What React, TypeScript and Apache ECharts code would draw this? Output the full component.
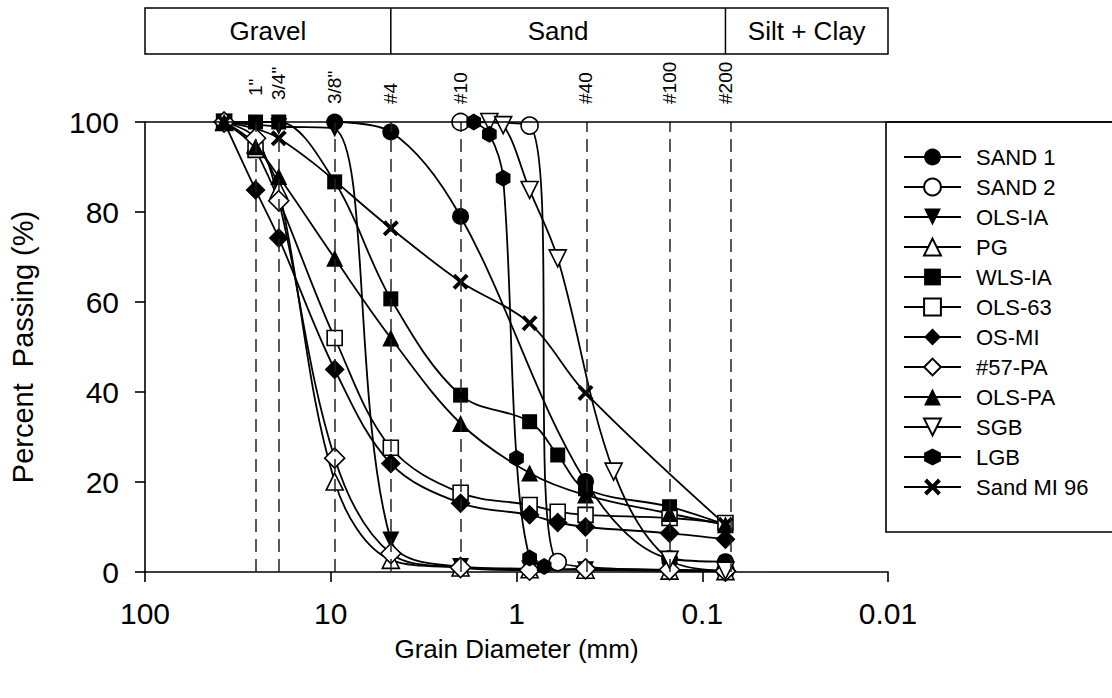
import React, { useEffect, useRef } from "react";
import * as echarts from "echarts";

const FONT = '"Liberation Sans", Arial, Helvetica, sans-serif';

// Sieve sizes (mm) and their labels
const sieveSizes = [25.4, 19.05, 9.525, 4.75, 2.0, 0.425, 0.15, 0.075];
const sieveLabels = ['1"', '3/4"', '3/8"', "#4", "#10", "#40", "#100", "#200"];

// Soil classification bands
const bandNames = ["Gravel", "Sand", "Silt + Clay"];
const bandBounds = [100, 4.75, 0.075, 0.01];

// Axis ticks
const yTicks = [0, 20, 40, 60, 80, 100];

// Series data: grain size (mm) and percent passing
const sand1Size = [9.525, 4.75, 2.0, 0.425, 0.15, 0.075];
const sand1Pass = [100, 97.8, 79, 20.1, 3, 2.3];

const sand2Size = [2.0, 0.85, 0.6, 0.075];
const sand2Pass = [100, 99.2, 2.2, 0.3];

const olsIaSize = [37.5, 19.05, 9.525, 4.75, 2.0, 0.85, 0.425, 0.15, 0.075];
const olsIaPass = [100, 99, 98.5, 7.1, 1.2, 0.7, 0.5, 0.3, 0.2];

const pgSize = [37.5, 25.4, 19.05, 9.525, 4.75, 2.0, 0.85, 0.425, 0.15, 0.075];
const pgPass = [100, 95, 85, 20.1, 2.7, 1, 0.6, 0.5, 0.3, 0.2];

const wlsIaSize = [37.5, 25.4, 19.05, 9.525, 4.75, 2.0, 0.85, 0.6, 0.425, 0.15, 0.075];
const wlsIaPass = [100, 100, 100, 86.7, 60.7, 39.3, 33.4, 26, 18.5, 14.5, 10.5];

const ols63Size = [37.5, 25.4, 9.525, 4.75, 2.0, 0.85, 0.6, 0.425, 0.15, 0.075];
const ols63Pass = [100, 93.8, 52, 27.6, 17.6, 14.9, 13.4, 12.7, 12, 10.9];

const osMiSize = [37.5, 25.4, 19.05, 9.525, 4.75, 2.0, 0.85, 0.6, 0.425, 0.15, 0.075];
const osMiPass = [100, 84.9, 74.2, 45, 24.1, 15.3, 12.7, 11, 10, 8.6, 7.3];

const pa57Size = [37.5, 25.4, 19.05, 9.525, 4.75, 2.0, 0.85, 0.425, 0.15, 0.075];
const pa57Pass = [100, 96.4, 82.5, 25.3, 4.1, 1, 0.4, 0.7, 0.5, 0.2];

const olsPaSize = [37.5, 25.4, 19.05, 9.525, 4.75, 2.0, 0.85, 0.425, 0.15, 0.075];
const olsPaPass = [100, 94.5, 87.9, 69.7, 52, 33, 22, 17.1, 13, 10.5];

const sgbSize = [1.4, 1.18, 0.85, 0.6, 0.3, 0.15, 0.075];
const sgbPass = [100, 99.3, 84.9, 69.7, 22.3, 2.7, 0.3];

const lgbSize = [1.7, 1.4, 1.18, 1.0, 0.85, 0.71];
const lgbPass = [100, 97.3, 87.5, 25.3, 3.1, 1.2];

const sandMiSize = [37.5, 19.05, 4.75, 2.0, 0.85, 0.425, 0.075];
const sandMiPass = [100, 96.4, 76.4, 64.5, 55.3, 39.8, 10.5];

const HEX = "path://M5,0 L9.33,2.5 L9.33,7.5 L5,10 L0.67,7.5 L0.67,2.5 Z";
const XMARK =
  "path://M0,1.7 L1.7,0 L5,3.3 L8.3,0 L10,1.7 L6.7,5 L10,8.3 L8.3,10 L5,6.7 L1.7,10 L0,8.3 L3.3,5 Z";

type Def = {
  name: string;
  sizes: number[];
  pass: number[];
  symbol: string;
  filled: boolean;
  symbolSize: number;
  rotate?: number;
};

const defs: Def[] = [
  { name: "SAND 1", sizes: sand1Size, pass: sand1Pass, symbol: "circle", filled: true, symbolSize: 17 },
  { name: "SAND 2", sizes: sand2Size, pass: sand2Pass, symbol: "circle", filled: false, symbolSize: 17 },
  { name: "OLS-IA", sizes: olsIaSize, pass: olsIaPass, symbol: "triangle", filled: true, symbolSize: 17, rotate: 180 },
  { name: "PG", sizes: pgSize, pass: pgPass, symbol: "triangle", filled: false, symbolSize: 17 },
  { name: "WLS-IA", sizes: wlsIaSize, pass: wlsIaPass, symbol: "rect", filled: true, symbolSize: 15 },
  { name: "OLS-63", sizes: ols63Size, pass: ols63Pass, symbol: "rect", filled: false, symbolSize: 15 },
  { name: "OS-MI", sizes: osMiSize, pass: osMiPass, symbol: "diamond", filled: true, symbolSize: 20 },
  { name: "#57-PA", sizes: pa57Size, pass: pa57Pass, symbol: "diamond", filled: false, symbolSize: 20 },
  { name: "OLS-PA", sizes: olsPaSize, pass: olsPaPass, symbol: "triangle", filled: true, symbolSize: 17 },
  { name: "SGB", sizes: sgbSize, pass: sgbPass, symbol: "triangle", filled: false, symbolSize: 17, rotate: 180 },
  { name: "LGB", sizes: lgbSize, pass: lgbPass, symbol: HEX, filled: true, symbolSize: 17 },
  { name: "Sand MI 96", sizes: sandMiSize, pass: sandMiPass, symbol: XMARK, filled: true, symbolSize: 16 },
];

// label offsets above the frame for the sieve labels (layout only)
const sieveLabelDistance = [26, 22, 18, 18, 18, 18, 18, 18];

const GRID = { left: 145, top: 122, width: 743, height: 450 };

function fmtX(v: number): string {
  if (v >= 1) return String(Math.round(v));
  return String(Number(v.toPrecision(2)));
}

export default function App() {
  const ref = useRef<HTMLDivElement>(null);

  useEffect(() => {
    if (!ref.current) return;
    const chart = echarts.init(ref.current, undefined, { renderer: "svg" });

    const lineSeries = defs.map((d) => ({
      type: "line",
      name: d.name,
      data: d.sizes.map((s, i) => [s, d.pass[i]]),
      symbol: d.symbol,
      symbolSize: d.symbolSize,
      symbolRotate: d.rotate || 0,
      symbolKeepAspect: true,
      smooth: 0.35,
      showAllSymbol: true,
      clip: false,
      lineStyle: { color: "#000", width: 1.8 },
      itemStyle: {
        color: d.filled ? "#000" : "#fff",
        borderColor: "#000",
        borderWidth: d.filled ? 0 : 1.6,
      },
      emphasis: { disabled: true },
      z: 3,
    }));

    const sieveSeries = {
      type: "line",
      name: "sieves",
      data: sieveSizes.map((s, i) => ({
        value: [s, 100],
        label: { distance: sieveLabelDistance[i] },
      })),
      symbol: "circle",
      symbolSize: 0,
      lineStyle: { width: 0, opacity: 0 },
      silent: true,
      z: 1,
      label: {
        show: true,
        position: "top",
        rotate: 90,
        align: "left",
        verticalAlign: "middle",
        fontFamily: FONT,
        fontSize: 19,
        color: "#000",
        formatter: (p: any) => sieveLabels[p.dataIndex],
      },
      markLine: {
        silent: true,
        symbol: ["none", "none"],
        label: { show: false },
        lineStyle: { color: "#222", width: 1.5, type: [13, 7] },
        data: sieveSizes.map((s) => ({ xAxis: s })),
      },
    };

    const option: any = {
      animation: false,
      backgroundColor: "#fff",
      textStyle: { fontFamily: FONT },
      grid: { ...GRID },
      legend: {
        data: defs.map((d) => d.name),
        orient: "vertical",
        left: 898,
        top: 141,
        itemWidth: 57,
        itemHeight: 21,
        itemGap: 8,
        selectedMode: false,
        textStyle: {
          fontFamily: FONT,
          fontSize: 22,
          lineHeight: 22,
          color: "#000",
          padding: [0, 0, 0, 10],
        },
      },
      xAxis: {
        type: "log",
        logBase: 10,
        min: 0.01,
        max: 100,
        inverse: true,
        name: "Grain Diameter (mm)",
        nameLocation: "middle",
        nameGap: 64,
        nameTextStyle: { fontFamily: FONT, fontSize: 26, color: "#000" },
        axisLine: { show: true, lineStyle: { color: "#000", width: 1.6 } },
        axisTick: { show: true, inside: false, length: 10, lineStyle: { color: "#000", width: 1.6 } },
        minorTick: { show: false },
        splitLine: { show: false },
        axisLabel: {
          fontFamily: FONT,
          fontSize: 30,
          color: "#000",
          margin: 26,
          formatter: (v: number) => fmtX(v),
        },
      },
      yAxis: {
        type: "value",
        min: yTicks[0],
        max: yTicks[yTicks.length - 1],
        interval: 20,
        name: "Percent  Passing (%)",
        nameLocation: "middle",
        nameGap: 108,
        nameRotate: 90,
        nameTextStyle: { fontFamily: FONT, fontSize: 29, color: "#000" },
        axisLine: { show: true, lineStyle: { color: "#000", width: 1.6 } },
        axisTick: { show: true, inside: false, length: 10, lineStyle: { color: "#000", width: 1.6 } },
        splitLine: { show: false },
        axisLabel: { fontFamily: FONT, fontSize: 30, color: "#000", margin: 26 },
      },
      series: [sieveSeries, ...lineSeries],
    };

    chart.setOption(option);

    // decorations placed through the axis scale
    const px = (v: number) => chart.convertToPixel({ xAxisIndex: 0 }, v) as number;
    const bx = bandBounds.map(px);
    const hTop = 8;
    const hBot = 54;
    const graphics: any[] = [];
    graphics.push({
      type: "rect",
      shape: { x: bx[0], y: hTop, width: bx[3] - bx[0], height: hBot - hTop },
      style: { fill: "#fff", stroke: "#000", lineWidth: 1.5 },
      z: 10,
    });
    for (let i = 1; i < 3; i++) {
      graphics.push({
        type: "line",
        shape: { x1: bx[i], y1: hTop, x2: bx[i], y2: hBot },
        style: { stroke: "#000", lineWidth: 1.5 },
        z: 11,
      });
    }
    bandNames.forEach((n, i) => {
      graphics.push({
        type: "text",
        x: (bx[i] + bx[i + 1]) / 2,
        y: (hTop + hBot) / 2,
        style: {
          text: n,
          fontFamily: FONT,
          fontSize: 26,
          fill: "#000",
          align: "center",
          verticalAlign: "middle",
        },
        z: 12,
      });
    });
    graphics.push({
      type: "line",
      shape: { x1: GRID.left, y1: GRID.top, x2: 1112, y2: GRID.top },
      style: { stroke: "#000", lineWidth: 1.6 },
      z: 20,
    });
    graphics.push({
      type: "rect",
      shape: { x: 886, y: GRID.top, width: 300, height: 410 },
      style: { fill: "#fff", stroke: "#000", lineWidth: 1.6 },
      z: -1,
    });
    chart.setOption({ graphic: graphics });

    return () => chart.dispose();
  }, []);

  return (
    <div
      ref={ref}
      style={{ position: "absolute", left: 0, top: 0, width: 1112, height: 698, background: "#fff" }}
    />
  );
}
